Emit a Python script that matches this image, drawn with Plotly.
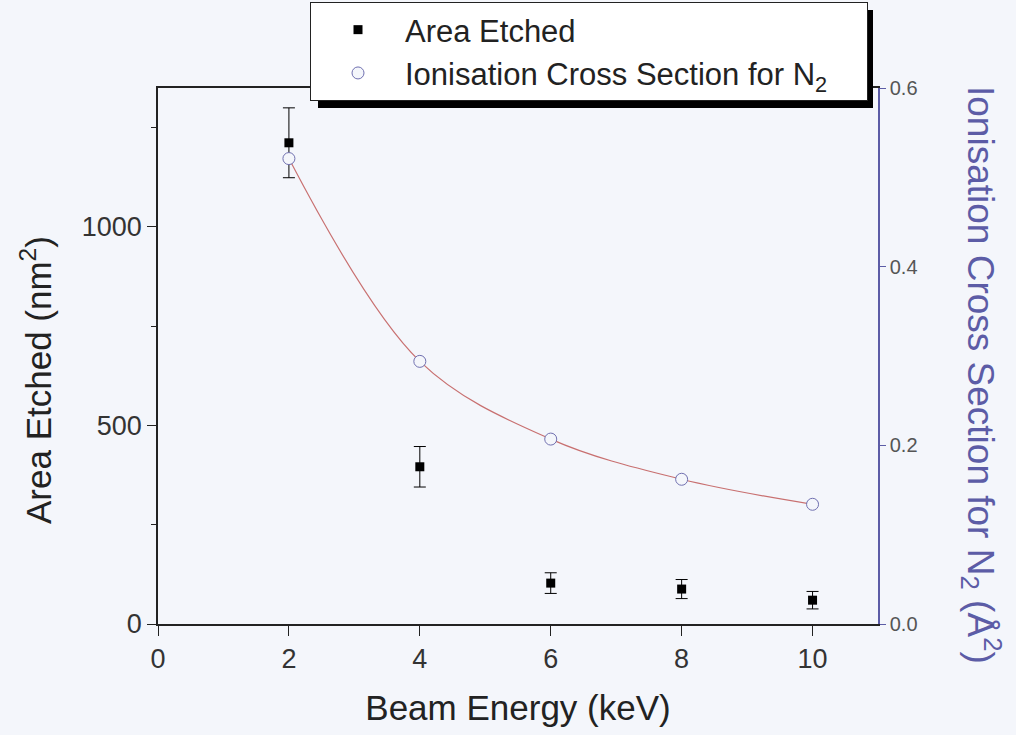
import plotly.graph_objects as go

# Beam energy (keV)
energy = [2, 4, 6, 8, 10]

# Area etched (nm^2) with error
area = [1212, 396, 103, 88, 60]
area_err = [88, 51, 26, 24, 22]

# Ionisation cross section for N2 (Å^2)
cross_section = [0.521, 0.294, 0.207, 0.162, 0.134]

BG = "#f4f6fb"
PURPLE = "#5c5ca6"
FONT = "Liberation Sans, Arial, sans-serif"
NBSP = "\u00a0"

fig = go.Figure()

fig.add_trace(go.Scatter(
    x=energy, y=area, mode="markers", name="Area Etched",
    marker=dict(symbol="square", size=9, color="black"),
    error_y=dict(type="data", array=area_err, color="black", thickness=1, width=6),
))

# smooth curve through the cross-section points
fig.add_trace(go.Scatter(
    x=energy, y=cross_section, mode="lines", yaxis="y2", showlegend=False,
    line=dict(color="#c87070", width=1.2, shape="spline", smoothing=1.0),
    hoverinfo="skip",
))

fig.add_trace(go.Scatter(
    x=energy, y=cross_section, mode="markers", yaxis="y2",
    name="Ionisation Cross Section for N<sub>2</sub>" + NBSP * 4,
    marker=dict(symbol="circle", size=12, color=BG, line=dict(color="#7070b0", width=1)),
))


# plot area in pixels: x 158..878, y 88..624
def px_x(p):
    return (p - 158) / 720


def px_y(p):
    return (624 - p) / 536


TITLE_SIZE = 35

fig.update_layout(
    width=1016, height=735,
    paper_bgcolor=BG, plot_bgcolor=BG,
    font=dict(family=FONT, color="#222"),
    margin=dict(l=158, r=138, t=88, b=111, autoexpand=False),
    xaxis=dict(
        range=[0, 11], tickvals=[0, 2, 4, 6, 8, 10],
        showgrid=False, zeroline=False,
        showline=True, linecolor="#222", linewidth=1.5, mirror=True,
        ticks="outside", ticklen=10, tickcolor="#222",
        tickfont=dict(size=27, color="#333"),
        title=dict(text="Beam Energy (keV)", font=dict(size=TITLE_SIZE, color="#222"), standoff=22),
    ),
    yaxis=dict(
        range=[0, 1350], tickvals=[0, 500, 1000],
        showgrid=False, zeroline=False,
        showline=True, linecolor="#222", linewidth=1.5,
        ticks="outside", ticklen=9, tickcolor="#222",
        minor=dict(tickvals=[250, 750, 1250], ticks="outside", ticklen=5, tickcolor="#222"),
        tickfont=dict(size=27, color="#333"),
    ),
    yaxis2=dict(
        overlaying="y", side="right", anchor="x",
        range=[0, 0.6], tickvals=[0, 0.2, 0.4, 0.6], ticktext=["0.0", "0.2", "0.4", "0.6"],
        showgrid=False, zeroline=False,
        showline=True, linecolor=PURPLE, linewidth=1.5,
        ticks="outside", ticklen=6, tickcolor=PURPLE,
        tickfont=dict(size=20, color="#555"),
    ),
    legend=dict(
        x=px_x(310), y=px_y(2), xanchor="left", yanchor="top",
        bgcolor="white", bordercolor="#222", borderwidth=1,
        font=dict(size=31, color="#222"), itemwidth=84,
        tracegroupgap=0,
    ),
    shapes=[dict(
        type="rect", xref="paper", yref="paper",
        x0=px_x(318), x1=px_x(873),
        y0=px_y(108), y1=px_y(10),
        fillcolor="black", line=dict(width=0), layer="above",
    )],
    annotations=[
        dict(text="Area Etched (nm<sup>2</sup>)", xref="paper", yref="paper",
             x=px_x(36), y=px_y(380), xanchor="center", yanchor="middle",
             textangle=-90, showarrow=False,
             font=dict(size=TITLE_SIZE, color="#222")),
        dict(text="Ionisation Cross Section for N<sub>2</sub> (Å<sup>2</sup>)",
             xref="paper", yref="paper",
             x=px_x(982), y=px_y(375), xanchor="center", yanchor="middle",
             textangle=90, showarrow=False,
             font=dict(size=37, color=PURPLE)),
    ],
)

fig.write_html("out.html")
